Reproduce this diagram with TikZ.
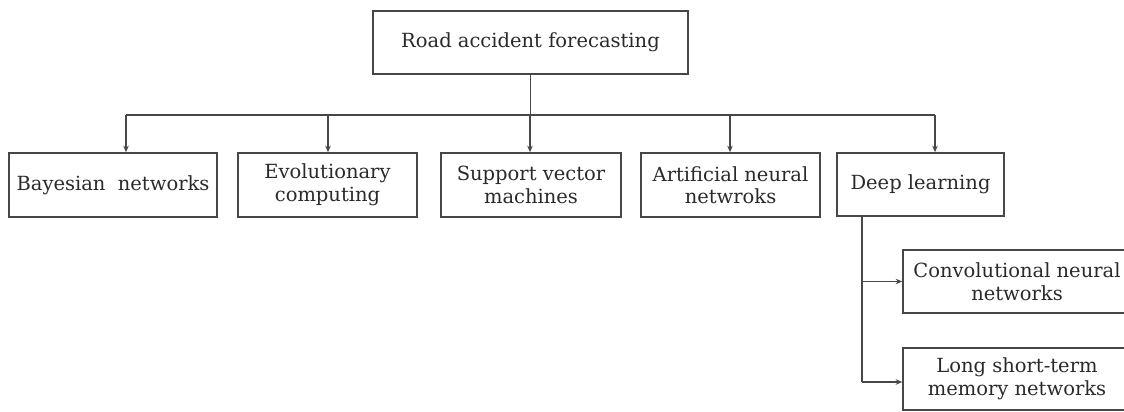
\documentclass[tikz,border=0pt]{standalone}
\usepackage{fontspec}
\setmainfont{DejaVu Serif}
\usetikzlibrary{arrows.meta}
\definecolor{linegray}{HTML}{474747}
\definecolor{textgray}{HTML}{2A2A2A}
\begin{document}
\begin{tikzpicture}[x=1pt,y=-1pt,
  box/.style={draw=linegray, line width=1.6pt, text=textgray, align=center, inner sep=0pt,
    font=\fontsize{19.5}{22.5}\selectfont},
  conn/.style={draw=linegray, line width=1.6pt},
  arr/.style={conn, -{Stealth[length=6.5pt,width=5.5pt]}}]
\useasboundingbox (0,0) rectangle (1124,412);
\clip (0,0) rectangle (1124,412);
\node[box, minimum width=315pt, minimum height=63pt] (root) at (530.5,42.5) {Road accident forecasting};
\node[box, minimum width=208pt, minimum height=64pt] (bay) at (113,185) {Bayesian\ \ networks};
\node[box, minimum width=179pt, minimum height=64pt] (evo) at (327.5,185) {Evolutionary\\computing};
\node[box, minimum width=180pt, minimum height=64pt] (svm) at (531,185) {Support vector\\machines};
\node[box, minimum width=179pt, minimum height=64pt] (ann) at (730.5,185) {Artificial neural\\netwroks};
\node[box, minimum width=167pt, minimum height=63pt] (deep) at (920.5,184.5) {Deep learning};
\node[box, minimum width=228pt, minimum height=63pt] (cnn) at (1017,281.5) {Convolutional neural\\networks};
\node[box, minimum width=228pt, minimum height=62pt] (lstm) at (1017,379) {Long short-term\\memory networks};
\coordinate (busL) at (126,115);
\coordinate (busR) at (935,115);
\coordinate (dtop) at (862,216);
\coordinate (dbot) at (862,382);
\draw[conn] (root.south) -- (root.south |- busL);
\draw[conn] (busL) -- (busR);
\draw[arr] (busL) -- (busL |- bay.north);
\draw[arr] (328,115) -- (328,0 |- evo.north);
\draw[arr] (530,115) -- (530,0 |- svm.north);
\draw[arr] (730,115) -- (730,0 |- ann.north);
\draw[arr] (busR) -- (busR |- deep.north);
\draw[conn] (dtop) -- (dbot);
\draw[arr] (dtop |- cnn.west) -- (cnn.west);
\draw[arr] (dbot) -- (lstm.west |- dbot);
\end{tikzpicture}
\end{document}
